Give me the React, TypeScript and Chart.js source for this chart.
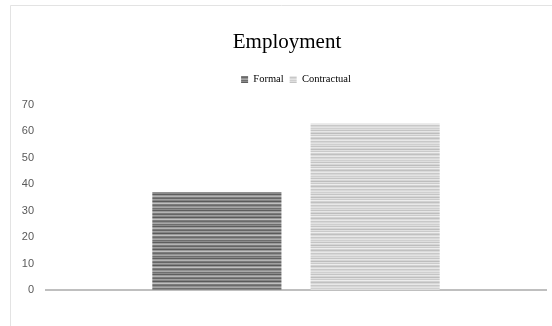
import React, { useEffect, useRef } from "react";
import { Chart, registerables } from "chart.js";

Chart.register(...registerables);

const categories = [""];
const seriesNames = ["Formal", "Contractual"];
const formalValues = [37];
const contractualValues = [63];
const yTicks = [0, 10, 20, 30, 40, 50, 60, 70];

function makeStripePattern(colors: string[]): CanvasPattern | string {
  const c = document.createElement("canvas");
  c.width = 4;
  c.height = colors.length;
  const ctx = c.getContext("2d");
  if (!ctx) return colors[0];
  colors.forEach((col, i) => {
    ctx.fillStyle = col;
    ctx.fillRect(0, i, 4, 1);
  });
  const p = ctx.createPattern(c, "repeat");
  return p || colors[0];
}

export default function App() {
  const ref = useRef<HTMLCanvasElement | null>(null);

  useEffect(() => {
    document.body.style.margin = "0";
    const canvas = ref.current;
    if (!canvas) return;

    const darkPattern = makeStripePattern([
      "#6e6e6e", "#8a8a8a", "#5e5e5e", "#9a9a9a", "#b4b4b4", "#7a7a7a",
      "#666666", "#a0a0a0", "#858585", "#5a5a5a", "#999999", "#c0c0c0",
      "#7c7c7c", "#6a6a6a", "#929292", "#a8a8a8",
    ]);
    const lightPattern = makeStripePattern([
      "#cfcfcf", "#dedede", "#c4c4c4", "#e6e6e6", "#d6d6d6", "#bdbdbd",
      "#e0e0e0", "#cacaca", "#ededed", "#d2d2d2", "#c0c0c0", "#dadada",
      "#e8e8e8", "#c8c8c8", "#d8d8d8", "#e3e3e3",
    ]);

    const frame = {
      id: "frame",
      beforeDraw(chart: any) {
        const ctx = chart.ctx;
        ctx.save();
        ctx.strokeStyle = "#e3e3e3";
        ctx.lineWidth = 1;
        ctx.beginPath();
        ctx.moveTo(10.5, chart.height);
        ctx.lineTo(10.5, 5.5);
        ctx.lineTo(chart.width, 5.5);
        ctx.stroke();
        ctx.restore();
      },
    };

    const chart = new Chart(canvas, {
      type: "bar",
      data: {
        labels: categories,
        datasets: [
          {
            label: seriesNames[0],
            data: formalValues,
            backgroundColor: darkPattern as any,
            borderWidth: 0,
          },
          {
            label: seriesNames[1],
            data: contractualValues,
            backgroundColor: lightPattern as any,
            borderWidth: 0,
          },
        ],
      },
      options: {
        animation: false,
        responsive: false,
        maintainAspectRatio: false,
        layout: { padding: { left: 28, right: 6, top: 0, bottom: 36 } },
        plugins: {
          tooltip: { enabled: false },
          title: {
            display: true,
            text: "Employment",
            color: "#000000",
            font: { family: "'Liberation Serif', 'Times New Roman', serif", size: 21, weight: "normal" },
            padding: { top: 30, bottom: 13 },
          },
          subtitle: {
            display: true,
            text: "",
            weight: 500,
            fullSize: false,
            font: { size: 8.5 },
            padding: 0,
          } as any,
          legend: {
            display: true,
            position: "top",
            fullSize: false,
            labels: {
              color: "#000000",
              font: { family: "'Liberation Serif', 'Times New Roman', serif", size: 10.5 },
              boxWidth: 7,
              boxHeight: 7,
              padding: 6,
            },
          },
        },
        datasets: {
          bar: { categoryPercentage: 0.633, barPercentage: 0.816 },
        },
        scales: {
          x: {
            grid: { display: false, drawTicks: false },
            ticks: { display: false },
            border: { display: true, color: "#bfbfbf", width: 2 },
            afterFit: (s: any) => {
              s.height = 0;
            },
          },
          y: {
            min: 0,
            max: 70,
            afterBuildTicks: (s: any) => {
              s.ticks = yTicks.map((v) => ({ value: v }));
            },
            grid: { display: false, drawTicks: false },
            border: { display: false },
            ticks: {
              color: "#595959",
              padding: 12,
              font: { family: "'Liberation Sans', Arial, sans-serif", size: 11 },
            },
            afterFit: (s: any) => {
              s.width = 18;
              s._computeLabelArea = () => undefined;
            },
          },
        },
      },
      plugins: [frame],
    });

    return () => chart.destroy();
  }, []);

  return (
    <div style={{ width: 552, height: 326 }}>
      <canvas ref={ref} width={552} height={326} style={{ width: 552, height: 326, display: "block" }} />
    </div>
  );
}
